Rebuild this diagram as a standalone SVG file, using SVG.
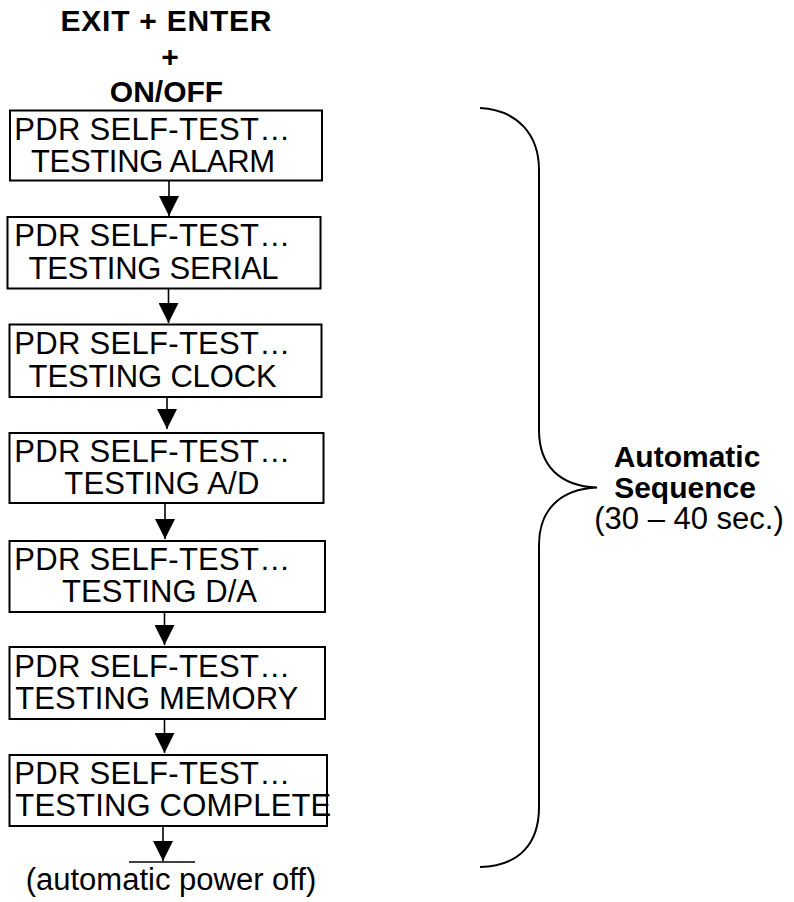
<svg xmlns="http://www.w3.org/2000/svg" width="794" height="902" viewBox="0 0 794 902">
<defs>
<style>
.box{fill:#fff;stroke:#000;stroke-width:2}
.t{font-family:"Liberation Sans",Arial,sans-serif;font-size:31px;fill:#000}
.b{font-weight:bold;font-size:30px}
.c{text-anchor:middle}
.ln{stroke:#000;stroke-width:1.6;fill:none}
.br{stroke:#000;stroke-width:2;fill:none}
</style>
<marker id="ah" markerUnits="userSpaceOnUse" markerWidth="20" markerHeight="20" refX="20" refY="10" orient="auto" viewBox="0 0 20 20">
<path d="M0,0 L20,10 L0,20 z" fill="#000"/>
</marker>
</defs>
<rect width="794" height="902" fill="#fff"/>
<g id="title">
<text class="t b c" x="166" y="31" textLength="211" lengthAdjust="spacing">EXIT + ENTER</text>
<text class="t b c" x="170" y="66.5">+</text>
<text class="t b c" x="166.5" y="102">ON/OFF</text>
</g>
<g id="connectors">
<line class="ln" x1="169" y1="181" x2="169" y2="216" marker-end="url(#ah)"/>
<line class="ln" x1="168.5" y1="289" x2="168.5" y2="323" marker-end="url(#ah)"/>
<line class="ln" x1="167" y1="397" x2="167" y2="429" marker-end="url(#ah)"/>
<line class="ln" x1="165" y1="503" x2="165" y2="539" marker-end="url(#ah)"/>
<line class="ln" x1="164.5" y1="612" x2="164.5" y2="645" marker-end="url(#ah)"/>
<line class="ln" x1="164.5" y1="719" x2="164.5" y2="753" marker-end="url(#ah)"/>
<line class="ln" x1="163" y1="826" x2="163" y2="861" marker-end="url(#ah)"/>
<line class="ln" x1="129" y1="862" x2="195" y2="862"/>
</g>
<g id="n1">
<rect class="box" x="10" y="110.5" width="312" height="70"/>
<text class="t" x="14.3" y="139.5" textLength="276" lengthAdjust="spacing">PDR SELF-TEST…</text>
<text class="t" x="31" y="171.5" textLength="244" lengthAdjust="spacing">TESTING ALARM</text>
</g>
<g id="n2">
<rect class="box" x="7.5" y="217" width="313" height="71.5"/>
<text class="t" x="14.3" y="246" textLength="276" lengthAdjust="spacing">PDR SELF-TEST…</text>
<text class="t" x="28.6" y="278.5" textLength="250" lengthAdjust="spacing">TESTING SERIAL</text>
</g>
<g id="n3">
<rect class="box" x="9.5" y="324.5" width="312" height="72.5"/>
<text class="t" x="14.3" y="354" textLength="276" lengthAdjust="spacing">PDR SELF-TEST…</text>
<text class="t" x="28.6" y="386.5" textLength="248" lengthAdjust="spacing">TESTING CLOCK</text>
</g>
<g id="n4">
<rect class="box" x="9.5" y="433" width="314" height="70"/>
<text class="t" x="14.3" y="462" textLength="276" lengthAdjust="spacing">PDR SELF-TEST…</text>
<text class="t" x="64.3" y="494" textLength="195" lengthAdjust="spacing">TESTING A/D</text>
</g>
<g id="n5">
<rect class="box" x="9.5" y="541" width="315.5" height="71"/>
<text class="t" x="14.3" y="570" textLength="276" lengthAdjust="spacing">PDR SELF-TEST…</text>
<text class="t" x="62" y="602" textLength="195" lengthAdjust="spacing">TESTING D/A</text>
</g>
<g id="n6">
<rect class="box" x="9.5" y="647" width="315.5" height="72"/>
<text class="t" x="14.3" y="676.5" textLength="276" lengthAdjust="spacing">PDR SELF-TEST…</text>
<text class="t" x="15.3" y="708.5" textLength="283" lengthAdjust="spacing">TESTING MEMORY</text>
</g>
<g id="n7">
<rect class="box" x="9.5" y="755" width="317.5" height="71"/>
<text class="t" x="14.3" y="784" textLength="276" lengthAdjust="spacing">PDR SELF-TEST…</text>
<text class="t" x="15.3" y="816" textLength="316" lengthAdjust="spacing">TESTING COMPLETE</text>
</g>
<g id="end">
<text class="t c" x="171" y="890">(automatic power off)</text>
</g>
<g id="brace">
<path class="br" d="M480,108 C518,110 539,135 539,170 L539,430 C539,466 560,486 597,487.5 C560,489 539,510 539,545 L539,807 C539,845 518,866 480,867"/>
</g>
<g id="label">
<text class="t b c" x="687" y="467">Automatic</text>
<text class="t b c" x="685" y="497.5">Sequence</text>
<text class="t c" x="689" y="529">(30 – 40 sec.)</text>
</g>
</svg>
